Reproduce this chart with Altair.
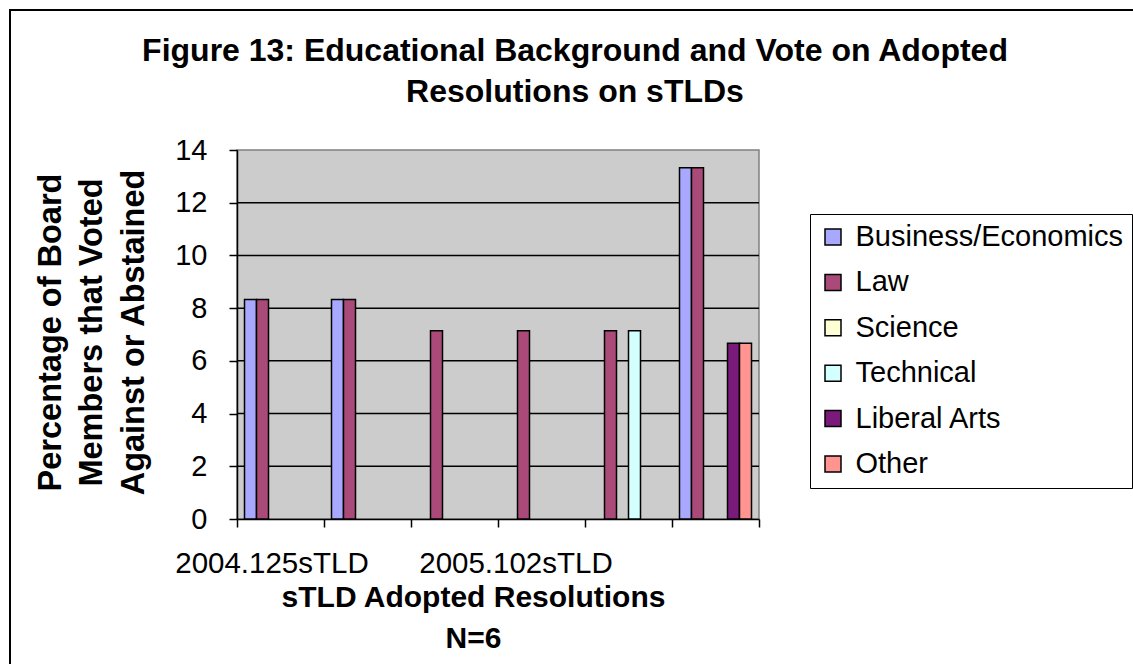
import altair as alt
import pandas as pd

# ---- data ----
categories = ["2004.125sTLD", "Resolution 2", "2005.102sTLD", "Resolution 4", "Resolution 5", "Resolution 6"]
shown_labels = ["2004.125sTLD", "2005.102sTLD"]
series = ["Business/Economics", "Law", "Science", "Technical", "Liberal Arts", "Other"]
business = [8.33, 8.33, 0, 0, 0, 13.33]
law = [8.33, 8.33, 7.14, 7.14, 7.14, 13.33]
science = [0, 0, 0, 0, 0, 0]
technical = [0, 0, 0, 0, 7.14, 0]
liberal_arts = [0, 0, 0, 0, 0, 6.67]
other = [0, 0, 0, 0, 0, 6.67]
colors = ["#A8A8FF", "#AA4A78", "#FFFFD4", "#D4FFFF", "#7A1A7A", "#FF9490"]
y_ticks = [0, 2, 4, 6, 8, 10, 12, 14]
grid_values = [2, 4, 6, 8, 10, 12]
title_lines = ["Figure 13: Educational Background and Vote on Adopted", "Resolutions on sTLDs"]

FONT = "Liberation Sans"

rows = []
for name, vals in zip(series, [business, law, science, technical, liberal_arts, other]):
    for cat, v in zip(categories, vals):
        rows.append({"resolution": cat, "series": name, "value": v})
df = pd.DataFrame(rows)

label_expr = "indexof(" + str(shown_labels).replace('"', "'") + ", datum.value) >= 0 ? datum.value : ''"

x_axis = alt.Axis(
    title=["sTLD Adopted Resolutions", "N=6"],
    titleFont=FONT, titleFontSize=30, titleFontWeight="bold", titleColor="black",
    titleX=236, titleY=87, titleAlign="center", titleBaseline="alphabetic", titleLineHeight=41,
    labelExpr=label_expr, labelFont=FONT, labelFontSize=29.5, labelColor="black",
    labelPadding=22, labelAngle=0, labelOverlap=False, labelLimit=400,
    labelOffset={"condition": {"test": "datum.value == '2005.102sTLD'", "value": 61}, "value": -9},
    tickBand="extent", tickSize=8, tickColor="black", tickWidth=1.5,
    domainColor="black", domainWidth=1.5, grid=False,
)

y_axis = alt.Axis(
    title=["Percentage of Board", "Members that Voted", "Against or Abstained"],
    titleFont=FONT, titleFontSize=32.5, titleFontWeight="bold", titleColor="black",
    titleX=-177, titleY=182, titleAngle=270, titleAlign="center", titleBaseline="alphabetic",
    titleLineHeight=41.5,
    values=y_ticks, labelFont=FONT, labelFontSize=29, labelColor="black", labelPadding=22,
    tickSize=8, tickColor="black", tickWidth=1.5,
    domainColor="black", domainWidth=1.5, grid=False,
)

bars = alt.Chart(df).transform_filter("datum.value > 0").mark_bar(
    stroke="black", strokeWidth=1.5
).encode(
    x=alt.X("resolution:N", sort=categories,
            scale=alt.Scale(domain=categories, paddingInner=0, paddingOuter=0), axis=x_axis),
    xOffset=alt.XOffset("series:N", sort=series,
                        scale=alt.Scale(domain=series, paddingInner=0, paddingOuter=0.625)),
    y=alt.Y("value:Q", scale=alt.Scale(domain=[0, 14], nice=False), axis=y_axis),
    color=alt.Color(
        "series:N", sort=series,
        scale=alt.Scale(domain=series, range=colors),
        legend=alt.Legend(
            title=None, orient="none", legendX=573, legendY=64,
            strokeColor="black", fillColor="white", padding=8.5,
            labelFont=FONT, labelFontSize=29, labelColor="black", labelLimit=400,
            symbolType="square", symbolSize=256, symbolStrokeColor="black",
            symbolStrokeWidth=1.5, rowPadding=15.4, labelOffset=8,
        ),
    ),
)

grid = alt.Chart(pd.DataFrame({"value": grid_values})).mark_rule(
    color="black", strokeWidth=1.5
).encode(y=alt.Y("value:Q"))

frame = alt.Chart(pd.DataFrame({"a": [0]})).mark_rect(
    fillOpacity=0, stroke="black", strokeWidth=2
).encode(
    x=alt.value(-227), x2=alt.value(910), y=alt.value(-140), y2=alt.value(530)
)

title = alt.Chart(pd.DataFrame({"t": [title_lines]})).mark_text(
    font=FONT, fontSize=32, fontWeight="bold", color="black",
    align="center", baseline="alphabetic", lineHeight=41,
).encode(
    text="t", x=alt.value(338), y=alt.value(-89)
)

chart = alt.layer(grid, bars, frame, title).properties(
    width=522, height=369,
    autosize=alt.AutoSizeParams(type="none"),
    padding={"left": 237, "top": 150, "right": 374, "bottom": 145},
    background="white",
).configure_view(
    fill="#CCCCCC", stroke="#808080", strokeWidth=1.5
)

chart.save("out.html", embed_options={"renderer": "svg", "actions": False})
